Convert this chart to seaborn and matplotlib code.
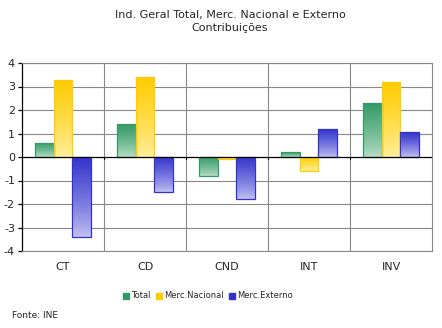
import numpy as np
import pandas as pd
import matplotlib
matplotlib.use("Agg")
import matplotlib.pyplot as plt
import seaborn as sns
from matplotlib.colors import LinearSegmentedColormap
from matplotlib.patches import Patch

categories = ["CT", "CD", "CND", "INT", "INV"]
total = [0.6, 1.4, -0.82, 0.21, 2.31]
nacional = [3.28, 3.4, -0.08, -0.61, 3.19]
externo = [-3.42, -1.5, -1.8, 1.19, 1.06]
series = ["Total", "Merc.Nacional", "Merc.Externo"]
yticks = [-4, -3, -2, -1, 0, 1, 2, 3, 4]

dark = {"Total": "#339966", "Merc.Nacional": "#FFCC00", "Merc.Externo": "#3333CC"}
light = {"Total": "#B8E0C8", "Merc.Nacional": "#FFF0A0", "Merc.Externo": "#C4C4F4"}

df = pd.DataFrame({
    "cat": categories * 3,
    "serie": sum([[s] * len(categories) for s in series], []),
    "val": total + nacional + externo,
})

sns.set_style("white")
plt.rcParams['font.family'] = ['DejaVu Sans']

fig = plt.figure(figsize=(4.42, 3.28), dpi=100)
ax = fig.add_axes([22 / 442, 1 - 251 / 328, 410 / 442, 188 / 328])

sns.barplot(data=df, x="cat", y="val", hue="serie", order=categories,
            hue_order=series, palette=dark, width=0.68, gap=0,
            ax=ax, legend=False, errorbar=None)

ax.set_xlim(-0.5, len(categories) - 0.5)
ax.set_ylim(-4, 4)

# gradient fills (dark at top, light at bottom)
for i, s in enumerate(series):
    cmap = LinearSegmentedColormap.from_list(s, [light[s], dark[s]])
    grad = np.linspace(0, 1, 256).reshape(-1, 1) ** 0.8
    for j in range(len(categories)):
        p = ax.patches[i * len(categories) + j]
        x0, y0 = p.get_x(), p.get_y()
        w, h = p.get_width(), p.get_height()
        ylo, yhi = min(y0, y0 + h), max(y0, y0 + h)
        im = ax.imshow(grad, cmap=cmap, aspect="auto", origin="lower",
                       extent=[x0, x0 + w, ylo, yhi], zorder=2)
        im.set_clip_path(p)
        p.set_facecolor("none")
        p.set_edgecolor(dark[s])
        p.set_linewidth(0.9)
        p.set_zorder(3)

ax.set_xlim(-0.5, len(categories) - 0.5)
ax.set_ylim(-4, 4)

# grid
for y in yticks:
    if y != 0:
        ax.axhline(y, color="#888888", lw=0.8, zorder=1)
for xb in np.arange(0.5, len(categories) - 0.5, 1):
    ax.axvline(xb, color="#888888", lw=0.8, zorder=1)
    ax.plot([xb, xb], [0, -0.1], color="black", lw=0.8, zorder=4, clip_on=False)
ax.axhline(0, color="black", lw=0.9, zorder=4)

for side in ["top", "right", "bottom"]:
    ax.spines[side].set_color("#888888")
    ax.spines[side].set_linewidth(0.8)
ax.spines["left"].set_color("black")
ax.spines["left"].set_linewidth(0.9)

ax.set_yticks(yticks)
ax.set_yticklabels([str(v) for v in yticks], fontsize=8)
ax.tick_params(axis="y", length=3, width=0.9, color="black", pad=2, left=True, direction="out")
ax.tick_params(axis="x", length=0, pad=8, labelsize=8)
ax.set_xlabel("")
ax.set_ylabel("")

fig.text(230 / 442, 1 - 15 / 328, "Ind. Geral Total, Merc. Nacional e Externo",
         ha="center", va="center", fontsize=8)
fig.text(230 / 442, 1 - 28 / 328, "Contribuições", ha="center", va="center", fontsize=8)

handles = [Patch(facecolor=dark[s], edgecolor=dark[s], label=s) for s in series]
fig.legend(handles=handles, loc="center", bbox_to_anchor=(208 / 442, 1 - 296 / 328),
           ncol=3, frameon=False, fontsize=6, handlelength=0.7, handleheight=0.7,
           handletextpad=0.3, columnspacing=0.6)

fig.text(12 / 442, 1 - 316 / 328, "Fonte: INE", ha="left", va="center", fontsize=6.5)

fig.savefig("out.png", dpi=100)
